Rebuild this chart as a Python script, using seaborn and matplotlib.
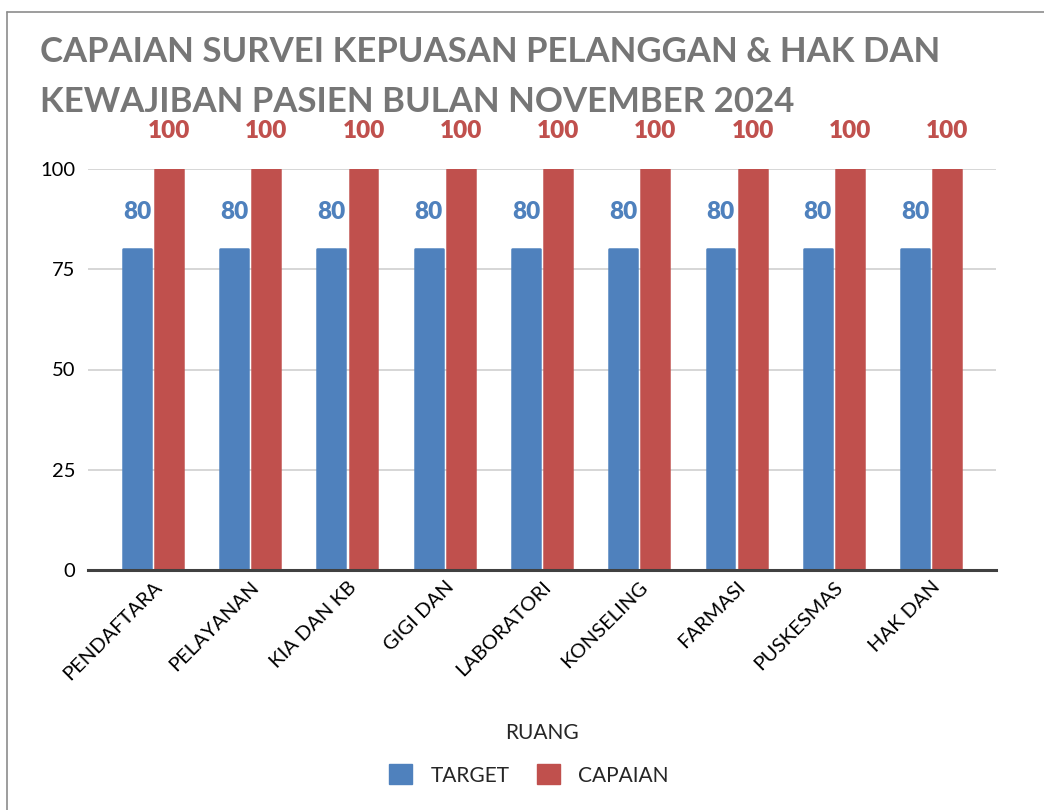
import pandas as pd
import matplotlib
matplotlib.use("Agg")
import matplotlib.pyplot as plt
from matplotlib.lines import Line2D
from matplotlib.patches import Patch
import seaborn as sns

# data
ruang = ["PENDAFTARA", "PELAYANAN", "KIA DAN KB", "GIGI DAN", "LABORATORI",
         "KONSELING", "FARMASI", "PUSKESMAS", "HAK DAN"]
target = [80, 80, 80, 80, 80, 80, 80, 80, 80]
capaian = [100, 100, 100, 100, 100, 100, 100, 100, 100]
series = ["TARGET", "CAPAIAN"]
yticks = [0, 25, 50, 75, 100]

blue = "#4F81BD"
red = "#C0504D"

df = pd.DataFrame({
    "ruang": ruang * 2,
    "nilai": target + capaian,
    "seri": [series[0]] * len(ruang) + [series[1]] * len(ruang),
})

sns.set_style("white")
plt.rcParams["font.family"] = ["Lato", "DejaVu Sans"]

fig = plt.figure(figsize=(10.44, 8.1), dpi=100)
ax = fig.add_axes([88 / 1044, 1 - 570 / 810, (996 - 88) / 1044, (570 - 169) / 810])

sns.barplot(data=df, x="ruang", y="nilai", hue="seri", order=ruang,
            hue_order=series, palette=[blue, red], width=0.66, gap=0.13,
            saturation=1, legend=False, ax=ax, zorder=3)

# slightly rounded bar tops
for p in ax.patches:
    p.set_edgecolor(p.get_facecolor())
    p.set_linewidth(1.8)
    p.set_joinstyle("round")

# data labels
for cont, col in zip(ax.containers, [blue, red]):
    for bar in cont:
        v = bar.get_height()
        ax.annotate(f"{v:.0f}", (bar.get_x() + bar.get_width() / 2, v),
                    xytext=(0, 27), textcoords="offset points",
                    ha="center", va="center", fontsize=17.5, fontweight="heavy",
                    color=col, annotation_clip=False)

ax.set_xlim(-0.668, len(ruang) - 1 + 0.668)
ax.set_ylim(0, 100)
ax.set_yticks(yticks)
ax.yaxis.grid(True, color="#D0D0D0", linewidth=1.2, zorder=0)
ax.set_axisbelow(True)
for s in ["top", "right", "left"]:
    ax.spines[s].set_visible(False)
ax.spines["bottom"].set_color("#404040")
ax.spines["bottom"].set_linewidth(2.2)
ax.spines["bottom"].set_zorder(5)
ax.tick_params(axis="both", length=0, labelsize=14.5, colors="black")
ax.tick_params(axis="y", pad=9)
ax.tick_params(axis="x", pad=6)
plt.setp(ax.get_xticklabels(), rotation=45, ha="right", rotation_mode="anchor")
ax.set_xlabel("RUANG", fontsize=15, labelpad=29)
ax.set_ylabel("")

# title
fig.text(40 / 1044, 1 - 52 / 810, "CAPAIAN SURVEI KEPUASAN PELANGGAN & HAK DAN",
         fontsize=25, fontweight="bold", color="#767676", va="center", ha="left")
fig.text(40 / 1044, 1 - 102 / 810, "KEWAJIBAN PASIEN BULAN NOVEMBER 2024",
         fontsize=25, fontweight="bold", color="#767676", va="center", ha="left")

# legend
handles = [Patch(facecolor=blue, edgecolor=blue), Patch(facecolor=red, edgecolor=red)]
fig.legend(handles, series, loc="center", bbox_to_anchor=(529 / 1044, 1 - 775 / 810),
           ncol=2, frameon=False, fontsize=15, handlelength=1.1, handleheight=1.1,
           columnspacing=1.3, handletextpad=0.9)

# chart frame
fig.add_artist(Line2D([7 / 1044, 1], [1 - 12 / 810] * 2, color="#8C8C8C", linewidth=1.2))
fig.add_artist(Line2D([7 / 1044] * 2, [0, 1 - 12 / 810], color="#8C8C8C", linewidth=1.2))

fig.savefig("out.png", dpi=100)
